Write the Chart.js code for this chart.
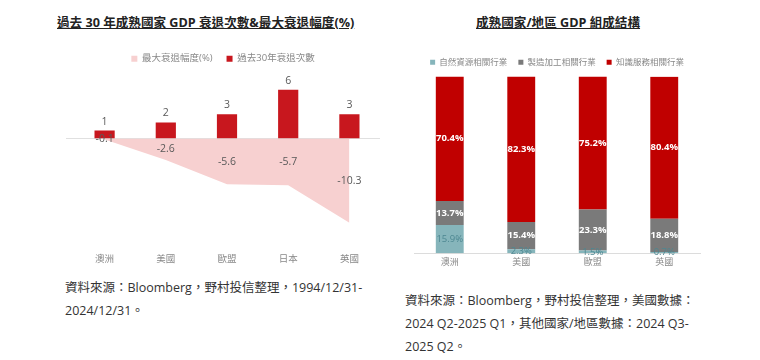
<!DOCTYPE html>
<html>
<head>
<meta charset="utf-8">
<script src="https://cdn.jsdelivr.net/npm/chart.js@4/dist/chart.umd.min.js"></script>
<style>
  body { margin: 0; width: 760px; height: 360px; background: #fff; position: relative; overflow: hidden;
         font-family: "Open Sans", "Noto Sans CJK TC", sans-serif; }
  .title { position: absolute; top: 12px; font-size: 12.6px; font-weight: bold; color: #222;
           text-decoration: underline; white-space: nowrap; }
  .src { position: absolute; font-size: 12.5px; color: #333; line-height: 23px; white-space: nowrap; }
  canvas { position: absolute; }
</style>
</head>
<body>
<div class="title" style="left:57px">過去 30 年成熟國家 GDP 衰退次數&amp;最大衰退幅度(%)</div>
<div class="title" style="left:476px">成熟國家/地區 GDP 組成結構</div>
<div style="position:absolute;left:40px;top:40px;width:350px;height:230px"><canvas id="chartA"></canvas></div>
<div style="position:absolute;left:390px;top:47px;width:360px;height:225px"><canvas id="chartB"></canvas></div>
<div class="src" style="left:65px;top:276px">資料來源：Bloomberg，野村投信整理，1994/12/31-<br>2024/12/31。</div>
<div class="src" style="left:405px;top:289px">資料來源：Bloomberg，野村投信整理，美國數據：<br>2024 Q2-2025 Q1，其他國家/地區數據：2024 Q3-<br>2025 Q2。</div>
<script>
// left chart
const countriesA = ["澳洲", "美國", "歐盟", "日本", "英國"];
const recessionCount = [1, 2, 3, 6, 3];
const maxDrawdown = [-0.1, -2.6, -5.6, -5.7, -10.3];

// right chart
const countriesB = ["澳洲", "美國", "歐盟", "英國"];
const natural = [15.9, 2.3, 1.5, 0.7];
const manufacturing = [13.7, 15.4, 23.3, 18.8];
const knowledge = [70.4, 82.3, 75.2, 80.4];

const FONT = '"Open Sans", "Noto Sans CJK TC", sans-serif';

// draws the value labels
const valueLabels = {
  id: 'valueLabels',
  afterDatasetsDraw(chart, args, opts) {
    const ctx = chart.ctx;
    ctx.save();
    ctx.textAlign = 'center';
    ctx.textBaseline = 'middle';
    chart.data.datasets.forEach(function(ds, i) {
      const meta = chart.getDatasetMeta(i);
      meta.data.forEach(function(el, j) {
        const v = ds.data[j];
        ctx.fillStyle = ds.labelColor;
        ctx.font = ds.labelFont;
        let x = el.x, y;
        if (ds.labelPos === 'top') {
          y = el.y - 9;
        } else if (ds.labelPos === 'half') {
          y = chart.scales.y.getPixelForValue(v / 2);
        } else {
          y = (el.y + el.base) / 2;
        }
        ctx.fillText(ds.labelPos === 'center' ? v.toFixed(1) + '%' : String(v), x, y);
      });
    });
    ctx.restore();
  }
};

new Chart("chartA", {
  type: "bar",
  data: {
    labels: countriesA,
    datasets: [{
      type: "line",
      label: "最大衰退幅度(%)",
      data: maxDrawdown,
      backgroundColor: "#f7d0d0",
      borderColor: "#f7d0d0",
      borderWidth: 0,
      pointRadius: 0,
      fill: "origin",
      order: 2,
      labelPos: 'half',
      labelColor: '#595959',
      labelFont: '10.5px ' + FONT
    }, {
      label: "過去30年衰退次數",
      data: recessionCount,
      backgroundColor: "#c8171e",
      barPercentage: 0.33,
      categoryPercentage: 1,
      order: 1,
      labelPos: 'top',
      labelColor: '#595959',
      labelFont: '10.5px ' + FONT
    }]
  },
  options: {
    responsive: true,
    maintainAspectRatio: false,
    animation: false,
    layout: { padding: { left: 26, right: 10, top: 0, bottom: 0 } },
    plugins: {
      legend: {
        display: true,
        labels: {
          font: { size: 9.5, family: FONT }, color: '#888', boxWidth: 6, boxHeight: 6, padding: 14,
          sort: function(a, b) { return a.datasetIndex - b.datasetIndex; }
        }
      },
      title: { display: false },
      tooltip: { enabled: false }
    },
    scales: {
      x: {
        grid: { display: false },
        border: { display: false },
        ticks: { color: '#888', font: { size: 9.5, family: FONT }, padding: 5 }
      },
      y: {
        display: true,
        min: -12.5, max: 8,
        border: { display: false },
        grid: { color: function(c) { return c.tick.value === 0 ? '#e0e0e0' : 'transparent'; } },
        ticks: { display: false, stepSize: 0.5 }
      }
    }
  },
  plugins: [valueLabels]
});

new Chart("chartB", {
  type: "bar",
  data: {
    labels: countriesB,
    datasets: [{
      label: "自然資源相關行業",
      data: natural,
      backgroundColor: "#86b5bb",
      labelPos: 'center',
      labelColor: '#4d8791',
      labelFont: '9.5px ' + FONT
    }, {
      label: "製造加工相關行業",
      data: manufacturing,
      backgroundColor: "#7a7a7a",
      labelPos: 'center',
      labelColor: '#fff',
      labelFont: 'bold 9.5px ' + FONT
    }, {
      label: "知識服務相關行業",
      data: knowledge,
      backgroundColor: "#c00000",
      labelPos: 'center',
      labelColor: '#fff',
      labelFont: 'bold 9.5px ' + FONT
    }]
  },
  options: {
    responsive: true,
    maintainAspectRatio: false,
    animation: false,
    datasets: { bar: { barPercentage: 0.39, categoryPercentage: 1 } },
    layout: { padding: { left: 24, right: 50, top: 0, bottom: 0 } },
    plugins: {
      legend: {
        display: true,
        labels: { font: { size: 8.5, family: FONT }, color: '#888', boxWidth: 5, boxHeight: 5, padding: 11 }
      },
      title: { display: false },
      tooltip: { enabled: false }
    },
    scales: {
      x: {
        stacked: true,
        grid: { display: false, drawTicks: false },
        border: { color: '#dcdcdc' },
        ticks: { color: '#888', font: { size: 9, family: FONT }, padding: 4 }
      },
      y: {
        stacked: true,
        display: false,
        min: 0, max: 100
      }
    }
  },
  plugins: [valueLabels]
});
</script>
</body>
</html>
